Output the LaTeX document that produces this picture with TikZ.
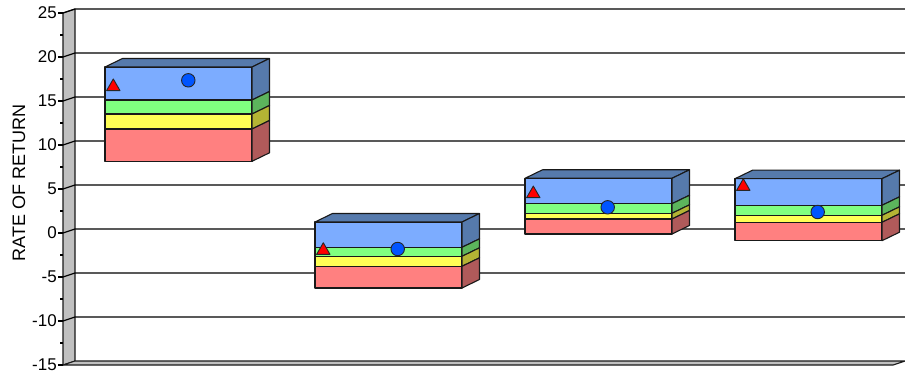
\documentclass[tikz,border=0pt]{standalone}
\usepackage{fontspec}
\setmainfont{Liberation Sans}
\usetikzlibrary{shapes.geometric, calc}

\definecolor{wallgray}{RGB}{192,192,192}
\definecolor{bluefront}{RGB}{124,172,255}
\definecolor{blueside}{RGB}{86,122,172}
\definecolor{greenfront}{RGB}{128,255,128}
\definecolor{greenside}{RGB}{92,180,92}
\definecolor{yellowfront}{RGB}{255,255,85}
\definecolor{yellowside}{RGB}{180,180,52}
\definecolor{redfront}{RGB}{255,128,128}
\definecolor{redside}{RGB}{176,90,90}
\definecolor{dotblue}{RGB}{0,85,255}

% #1 left, #2 right, #3 top, #4 blue/green, #5 green/yellow, #6 yellow/red, #7 bottom
\newcommand{\ratebox}[7]{
    \filldraw[face, fill=bluefront] (#1,#3) rectangle (#2,#4);
    \filldraw[face, fill=greenfront] (#1,#4) rectangle (#2,#5);
    \filldraw[face, fill=yellowfront] (#1,#5) rectangle (#2,#6);
    \filldraw[face, fill=redfront] (#1,#6) rectangle (#2,#7);
    \filldraw[face, fill=blueside] (#1,#3) -- ++(17.5,-8.5) -- ++({#2-#1},0) -- (#2,#3) -- cycle;
    \filldraw[face, fill=blueside] (#2,#3) -- ++(17.5,-8.5) -- ++(0,{#4-#3}) -- (#2,#4) -- cycle;
    \filldraw[face, fill=greenside] (#2,#4) -- ++(17.5,-8.5) -- ++(0,{#5-#4}) -- (#2,#5) -- cycle;
    \filldraw[face, fill=yellowside] (#2,#5) -- ++(17.5,-8.5) -- ++(0,{#6-#5}) -- (#2,#6) -- cycle;
    \filldraw[face, fill=redside] (#2,#6) -- ++(17.5,-8.5) -- ++(0,{#7-#6}) -- (#2,#7) -- cycle;
}

\begin{document}
\begin{tikzpicture}
            [x=1pt, y=-1pt, line join=round,
            face/.style={draw=black!90, line width=1.1pt},
            grid/.style={draw=black, line width=1.2pt},
            ticklabel/.style={anchor=east, inner sep=0pt, font=\fontsize{17}{17}\selectfont},
            tri/.style={regular polygon, regular polygon sides=3, fill=red, draw=black!85,
                line width=0.9pt, inner sep=0pt, minimum size=15.5pt},
            dot/.style={circle, fill=dotblue, draw=black!85, line width=0.9pt,
                inner sep=0pt, minimum size=13.5pt}]

            \useasboundingbox (0,0) rectangle (905,374);

            % wall and floor
            \filldraw[face, fill=wallgray] (63,13) -- (75,9) -- (75,361) -- (63,365) -- cycle;
            \filldraw[face, fill=wallgray] (63,365) -- (75,361) -- (905,361) -- (893,365) -- cycle;

            % grid lines and ticks
            \foreach \v in {-10,-5,...,25}
                \draw[grid] (63,{233-8.8*\v}) -- (75,{229-8.8*\v}) -- (905,{229-8.8*\v});
            \foreach \v in {-15,-10,...,25}
                \draw[grid] (58,{233-8.8*\v}) -- (63,{233-8.8*\v});
            \foreach \v in {-12.5,-7.5,...,22.5}
                \draw[grid] (60,{233-8.8*\v}) -- (63,{233-8.8*\v});

            \node[ticklabel] (l25) at (57,13) {25};
            \node[ticklabel] (l20) at (57,57) {20};
            \node[ticklabel] (l15) at (57,101) {15};
            \node[ticklabel] (l10) at (57,145) {10};
            \node[ticklabel] (l5) at (57,189) {5};
            \node[ticklabel] (l0) at (57,233) {0};
            \node[ticklabel] (lm5) at (57,277) {-5};
            \node[ticklabel] (lm10) at (57,321) {-10};
            \node[ticklabel] (lm15) at (57,365) {-15};

            \node[rotate=90, font=\fontsize{18}{18}\selectfont] (ylabel) at (19,183) {RATE OF RETURN};

            % boxes
            \ratebox{105}{252}{67}{100}{114}{129}{161.3}
            \ratebox{315}{462}{222}{247.3}{256.3}{266.3}{288}
            \ratebox{525}{672}{178.3}{203.7}{213.3}{219}{234}
            \ratebox{735}{882}{178.7}{205.3}{215.3}{222.3}{240.7}

            % markers
            \node[tri] (t1) at (113.3,86.7) {};
            \node[dot] (c1) at (188.3,80.3) {};
            \node[tri] (t2) at (323.3,250.5) {};
            \node[dot] (c2) at (397.7,249) {};
            \node[tri] (t3) at (533.3,193.8) {};
            \node[dot] (c3) at (607.7,207.3) {};
            \node[tri] (t4) at (743.3,186.5) {};
            \node[dot] (c4) at (817.7,212) {};

          \end{tikzpicture}
\end{document}
